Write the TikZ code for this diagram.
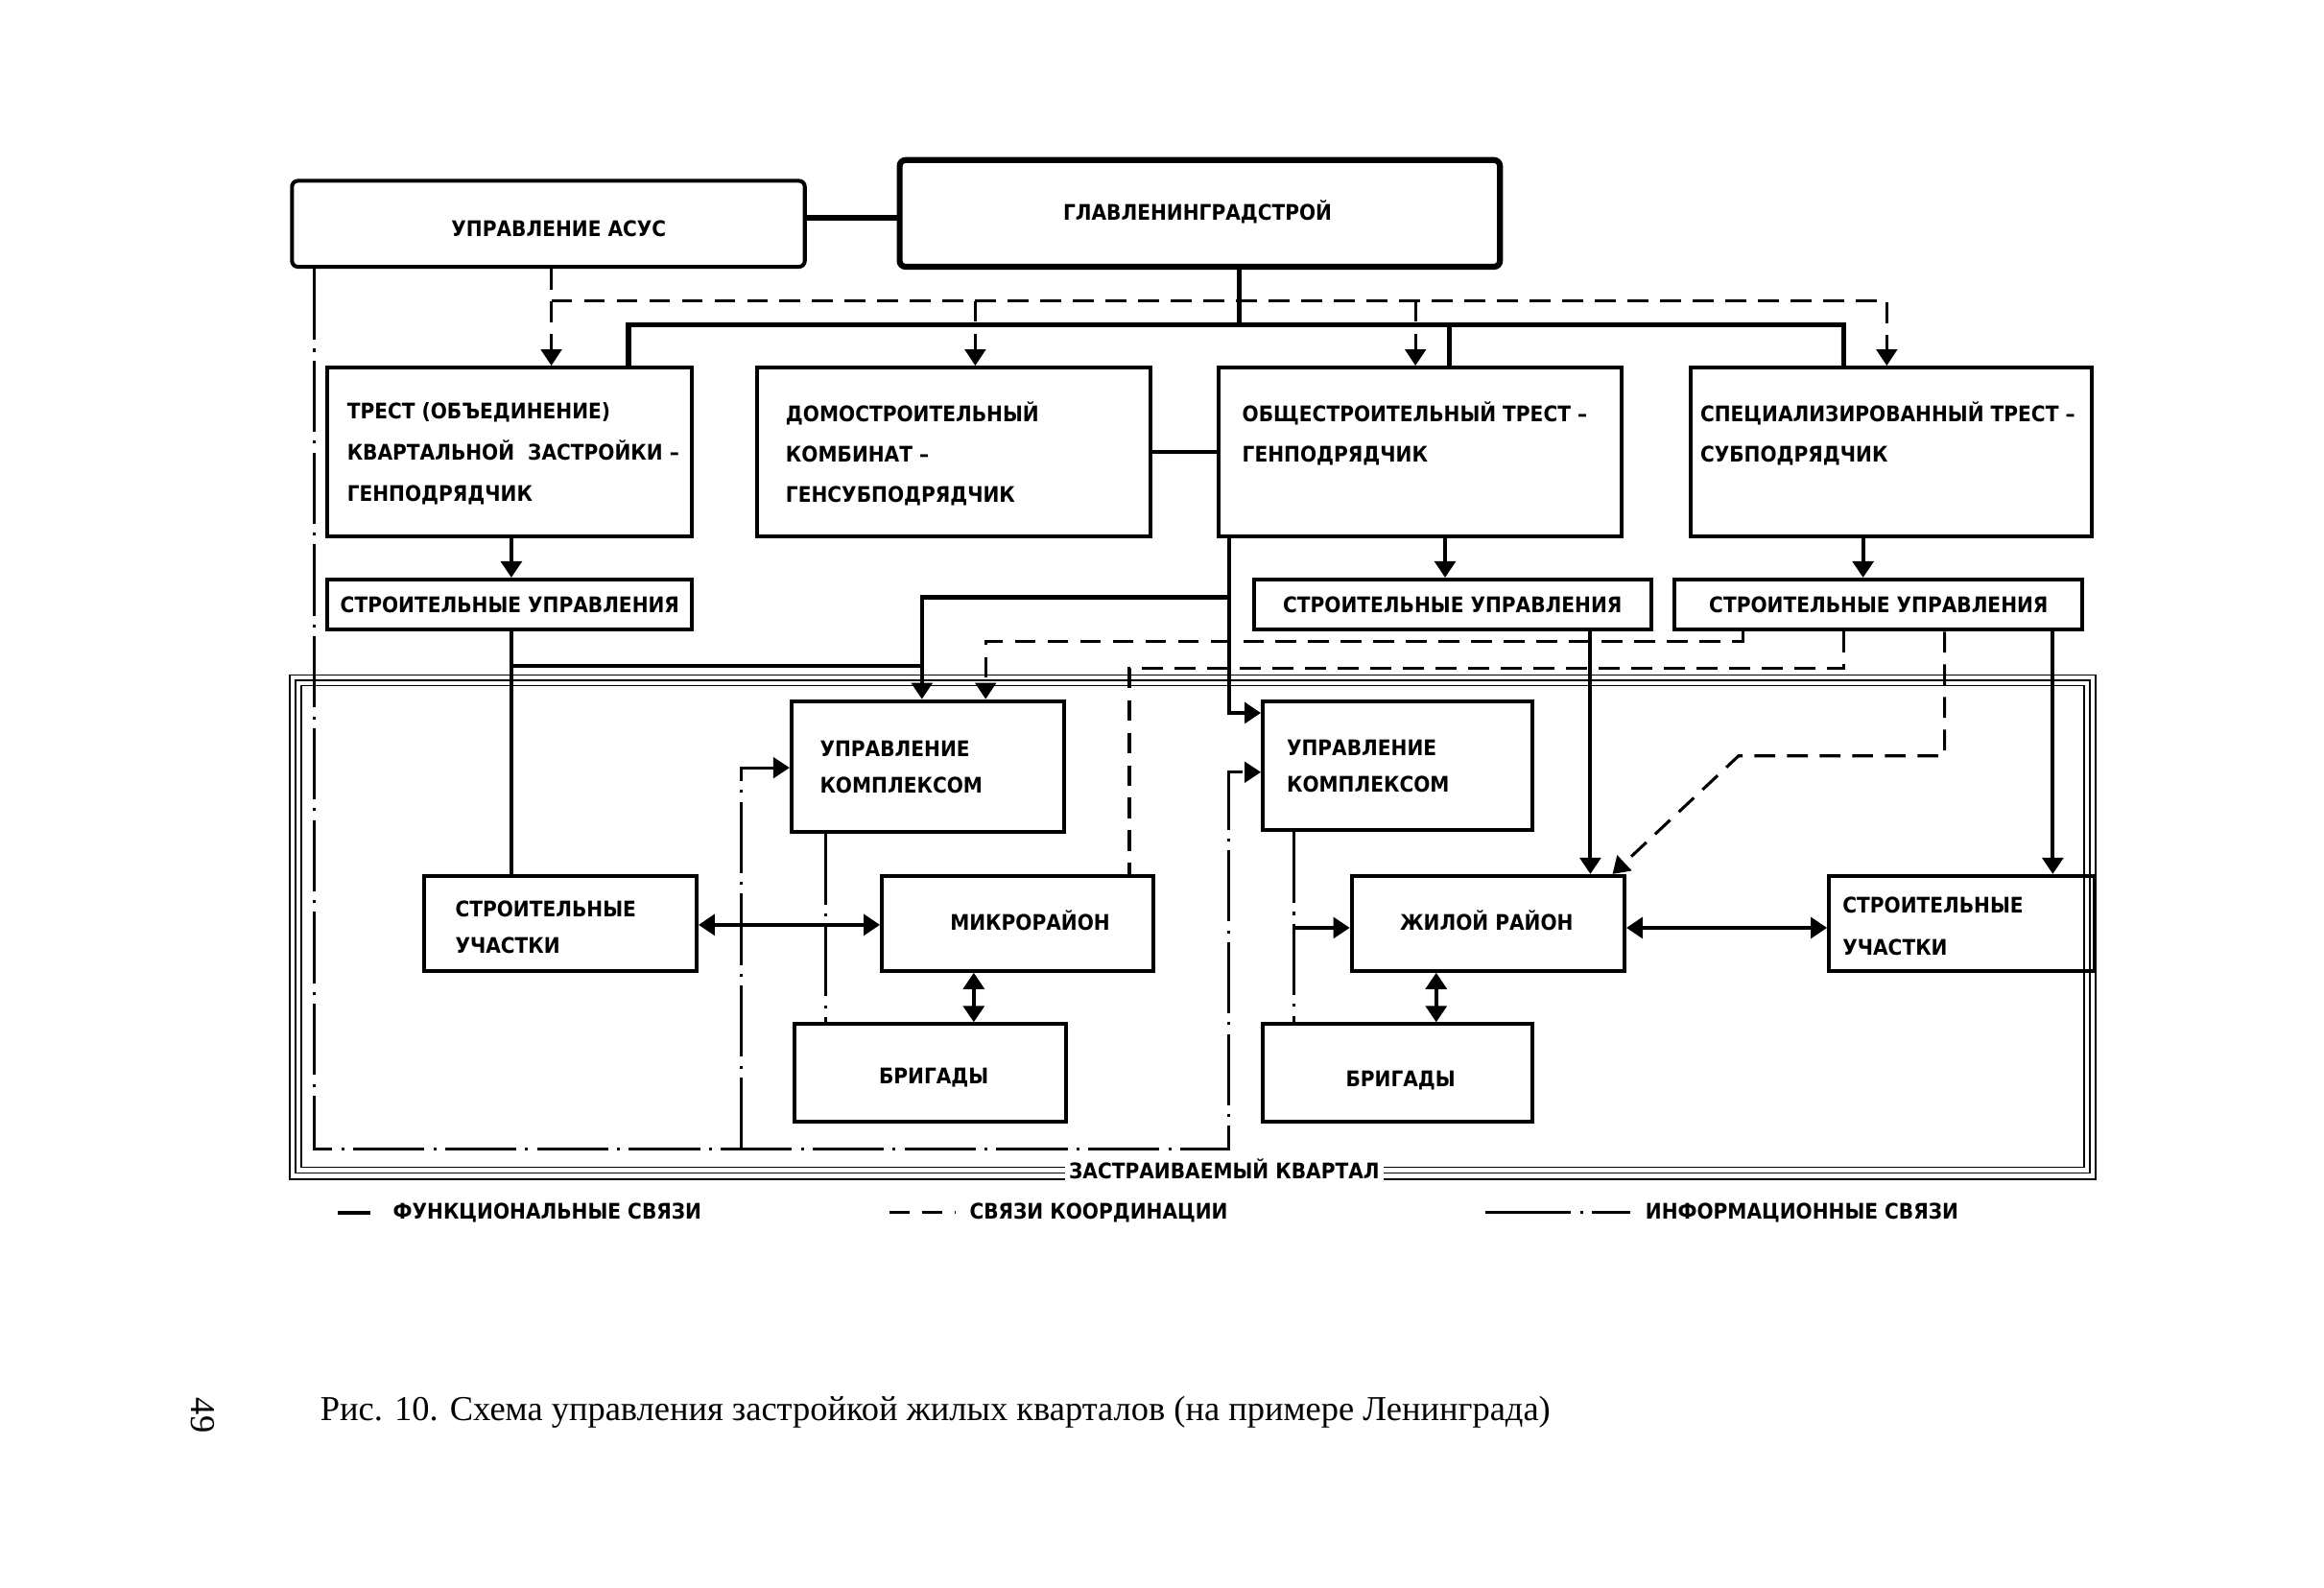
\documentclass[tikz,border=0pt]{standalone}
\usepackage{fontspec}
\setmainfont{DejaVu Sans Condensed}
\newfontfamily\capfont{Liberation Serif}
\usetikzlibrary{arrows.meta}
\newcommand{\lblfont}{\fontsize{14.5}{27}\selectfont\bfseries}
\newcommand{\mkbox}[6][]{\node[box,#1, minimum width={#5-#3}, minimum height={#6-#4}] (#2) at ({(#3+#5)/2},{(#4+#6)/2}) {};}
\begin{document}
\begin{tikzpicture}[x=1pt,y=-1pt,
  >={Triangle[width=14pt,length=11pt]},
  box/.style={draw, line width=2.6pt, inner sep=0pt},
  lbl/.style={font=\lblfont, inner sep=0pt, align=left},
  func/.style={line width=2.6pt},
  bus/.style={line width=3.4pt},
  coord/.style={line width=2pt, dash pattern=on 14pt off 8pt},
  info/.style={line width=2pt, dash pattern=on 48pt off 6pt on 2pt off 6pt},
  frm/.style={line width=1.1pt}]
\fill[white] (0,0) rectangle (1568,1071);
\useasboundingbox (0,0) rectangle (1568,1071);

% frame of the quarter
\draw[frm] (195.5,455.5) rectangle (1414,795.5);
\draw[frm] (199.5,459) rectangle (1410,791.5);
\draw[frm] (203.5,462.5) rectangle (1406,787.5);
\node[lbl, fill=white, inner xsep=3pt, inner ysep=5pt] (kv) at (826,789) {ЗАСТРАИВАЕМЫЙ КВАРТАЛ};

% boxes
\mkbox[rounded corners=4pt]{asus}{197}{122}{543}{180}
\mkbox[rounded corners=4pt, line width=4pt]{glav}{607}{108}{1012}{180}
\mkbox{t1}{221}{248}{467}{362}
\mkbox{dsk}{511}{248}{776}{362}
\mkbox{t3}{822}{248}{1094}{362}
\mkbox{t4}{1141}{248}{1411}{362}
\mkbox{su1}{221}{391}{467}{425}
\mkbox{su3}{846}{391}{1114}{425}
\mkbox{su4}{1130}{391}{1405}{425}
\mkbox{uk1}{534}{473}{718}{561}
\mkbox{uk2}{852}{473}{1034}{560}
\mkbox{uch1}{286}{591}{470}{655}
\mkbox{mr}{595}{591}{778}{655}
\mkbox{br1}{536}{691}{719}{757}
\mkbox{zr}{912}{591}{1096}{655}
\mkbox{br2}{852}{691}{1034}{757}
\mkbox{uch2}{1234}{591}{1413}{655}

% texts
\node[lbl] (asus-t) at (377,154) {УПРАВЛЕНИЕ АСУС};
\node[lbl] (glav-t) at (808,143) {ГЛАВЛЕНИНГРАДСТРОЙ};
\node[lbl, anchor=west, font=\fontsize{14.5}{28}\selectfont\bfseries] (t1-t) at (234,306) {ТРЕСТ (ОБЪЕДИНЕНИЕ)\\КВАРТАЛЬНОЙ\ \ ЗАСТРОЙКИ –\\ГЕНПОДРЯДЧИК};
\node[lbl, anchor=west] (dsk-t) at (530,306) {ДОМОСТРОИТЕЛЬНЫЙ\\КОМБИНАТ –\\ГЕНСУБПОДРЯДЧИК};
\node[lbl, anchor=west] (t3-t) at (838,292.5) {ОБЩЕСТРОИТЕЛЬНЫЙ ТРЕСТ –\\ГЕНПОДРЯДЧИК};
\node[lbl, anchor=west] (t4-t) at (1147,292.5) {СПЕЦИАЛИЗИРОВАННЫЙ ТРЕСТ –\\СУБПОДРЯДЧИК};
\node[lbl] (su1-t) at (su1) {СТРОИТЕЛЬНЫЕ УПРАВЛЕНИЯ};
\node[lbl] (su3-t) at (su3) {СТРОИТЕЛЬНЫЕ УПРАВЛЕНИЯ};
\node[lbl] (su4-t) at (su4) {СТРОИТЕЛЬНЫЕ УПРАВЛЕНИЯ};
\node[lbl, anchor=west, font=\fontsize{14.5}{25}\selectfont\bfseries] (uk1-t) at (553,517.5) {УПРАВЛЕНИЕ\\КОМПЛЕКСОМ};
\node[lbl, anchor=west, font=\fontsize{14.5}{25}\selectfont\bfseries] (uk2-t) at (868,517) {УПРАВЛЕНИЕ\\КОМПЛЕКСОМ};
\node[lbl, anchor=west, font=\fontsize{14.5}{25}\selectfont\bfseries] (uch1-t) at (307,625.5) {СТРОИТЕЛЬНЫЕ\\УЧАСТКИ};
\node[lbl] (mr-t) at (695,621) {МИКРОРАЙОН};
\node[lbl] (br1-t) at (630,727) {БРИГАДЫ};
\node[lbl] (zr-t) at (1003,621) {ЖИЛОЙ РАЙОН};
\node[lbl] (br2-t) at (945,729) {БРИГАДЫ};
\node[lbl, anchor=west, font=\fontsize{14.5}{28}\selectfont\bfseries] (uch2-t) at (1243,625) {СТРОИТЕЛЬНЫЕ\\УЧАСТКИ};

% functional links, top level
\draw[bus] (asus.east |- 0,147) -- (glav.west |- 0,147);
\draw[bus] (836,0 |- glav.south) -- (836,219);
\draw[bus] (424,0 |- t1.north) -- (424,219) -- (1244,219) -- (1244,0 |- t4.north);
\draw[bus] (978,219) -- (978,0 |- t3.north);
\draw[func] (dsk.east) -- (t3.west);
\draw[func,->] (345,0 |- t1.south) -- (345,0 |- su1.north);
\draw[func,->] (975,0 |- t3.south) -- (975,0 |- su3.north);
\draw[func,->] (1257,0 |- t4.south) -- (1257,0 |- su4.north);

% coordination links, top level
\draw[coord,->] (372,0 |- asus.south) -- (372,0 |- t1.north);
\draw[coord,->] (372,203) -- (1273,203) -- (1273,0 |- t4.north);
\draw[coord,->] (658,203) -- (658,0 |- dsk.north);
\draw[coord,->] (955,203) -- (955,0 |- t3.north);

% functional links, lower level
\draw[func] (345,0 |- su1.south) -- (345,0 |- uch1.north);
\draw[func] (345,449) -- (622,449);
\draw[func,->] (829,0 |- t3.south) -- (829,481) -- (uk2.west |- 0,481);
\draw[func,->] (829,403) -- (622,403) -- (622,0 |- uk1.north);
\draw[func,->] (1073,0 |- su3.south) -- (1073,0 |- zr.north);
\draw[func,->] (1385,0 |- su4.south) -- (1385,0 |- uch2.north);
\draw[func,<->] (uch1.east |- 0,624) -- (mr.west |- 0,624);
\draw[func,<->] (657,0 |- mr.south) -- (657,0 |- br1.north);
\draw[func,<->] (zr.east |- 0,626) -- (uch2.west |- 0,626);
\draw[func,<->] (969,0 |- zr.south) -- (969,0 |- br2.north);

% coordination links, lower level
\draw[coord,->] (1176,0 |- su4.south) -- (1176,433) -- (665,433) -- (665,0 |- uk1.north);
\draw[coord] (1244,0 |- su4.south) -- (1244,451) -- (762,451) -- (762,0 |- mr.north);
\draw[coord,->] (1312,0 |- su4.south) -- (1312,510) -- (1173,510) -- (1088,0 |- zr.north);

% information links
\draw[info,->] (212,0 |- asus.south) -- (212,775) -- (829,775) -- (829,521) -- (uk2.west |- 0,521);
\draw[info,->] (500,775) -- (500,518) -- (uk1.west |- 0,518);
\draw[info] (557,0 |- uk1.south) -- (557,0 |- br1.north);
\draw[info] (873,0 |- uk2.south) -- (873,0 |- br2.north);
\draw[info,->] (873,626) -- (zr.west |- 0,626);

% legend
\draw[func] (228,818) -- (250,818);
\node[lbl, anchor=west] (lg1) at (265,818) {ФУНКЦИОНАЛЬНЫЕ СВЯЗИ};
\draw[coord] (600,818) -- (645,818);
\node[lbl, anchor=west] (lg2) at (654,818) {СВЯЗИ КООРДИНАЦИИ};
\draw[info, dash pattern=on 58pt off 6pt on 2pt off 6pt] (1002,818) -- (1100,818);
\node[lbl, anchor=west] (lg3) at (1110,818) {ИНФОРМАЦИОННЫЕ СВЯЗИ};

% caption and page number
\node[inner sep=0pt, anchor=west, font=\capfont\fontsize{23.6}{26}\selectfont] (cap) at (216,953) {Рис. 10. Схема управления застройкой жилых кварталов (на примере Ленинграда)};
\node[inner sep=0pt, rotate=-90, font=\capfont\fontsize{23.6}{26}\selectfont] (pg) at (137,955) {49};
\end{tikzpicture}
\end{document}
